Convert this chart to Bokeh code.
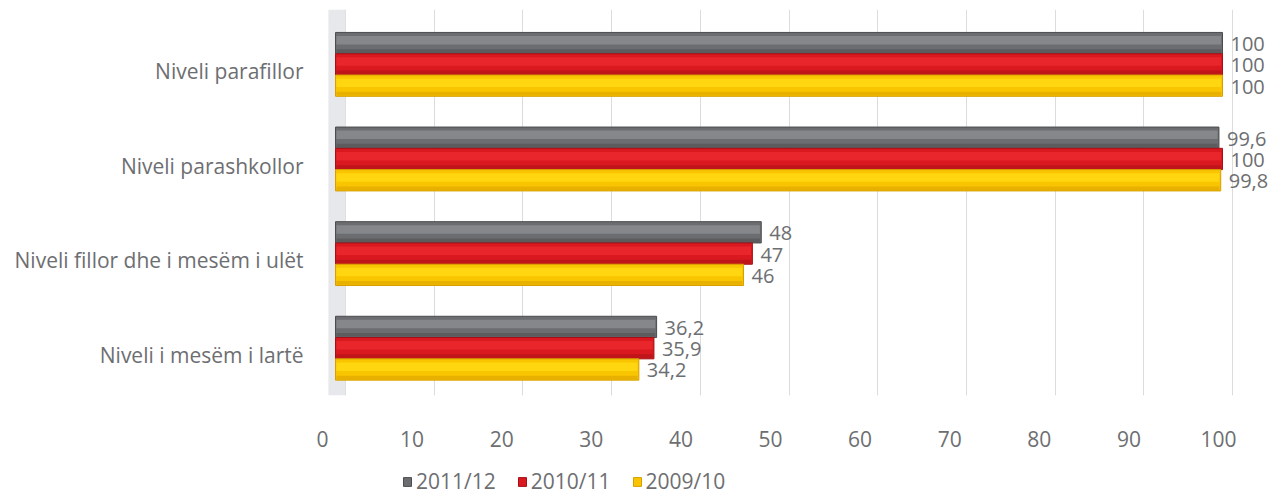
import numpy as np
from bokeh.plotting import figure
from bokeh.layouts import column
from bokeh.models import (Range1d, LinearAxis, FixedTicker, Grid, Legend, LegendItem,
                          BoxAnnotation)
from bokeh.core.properties import value
from bokeh.embed import file_html
from bokeh.resources import INLINE

# ---------------- data ----------------
categories = ["Niveli parafillor", "Niveli parashkollor",
              "Niveli fillor dhe i mesëm i ulët", "Niveli i mesëm i lartë"]
series = ["2011/12", "2010/11", "2009/10"]
v_2011_12 = [100, 99.6, 48, 36.2]
v_2010_11 = [100, 100, 47, 35.9]
v_2009_10 = [100, 99.8, 46, 34.2]
x_ticks = [0, 10, 20, 30, 40, 50, 60, 70, 80, 90, 100]

# ---------------- style ----------------
FONT = "Open Sans"
TXT = "#6d6e71"
base_colors = ["#6c6d70", "#d9191f", "#f8c500"]
hi_colors = ["#86878a", "#e8262c", "#ffd60f"]
lo_colors = ["#4b4c4e", "#a50f15", "#d89e00"]
offsets = [0.225, 0.0, -0.225]
BAR_H = 0.225

W = 1276
H_MAIN, H_LEG = 455, 40
FL, FR = 312, 1272          # frame left/right (px)
SCALE = 8.87                # px per unit for bars
XS = -(335 - FL) / SCALE
XE = XS + (FR - FL) / SCALE
YS, YE = -0.5, 3.58

cat_pos = np.arange(len(categories))[::-1].astype(float)

p = figure(width=W, height=H_MAIN,
           x_range=Range1d(XS, XE), y_range=Range1d(YS, YE),
           x_axis_location=None, y_axis_location=None,
           output_backend="svg", toolbar_location=None,
           min_border_left=FL, min_border_right=W - FR,
           min_border_top=9, min_border_bottom=60)
p.outline_line_color = None
p.background_fill_color = "white"
p.border_fill_color = "white"
for g in p.grid:
    g.visible = False

lab_scale = 8.96
lab_s = -(322 - FL) / lab_scale
wall_s = -(345 - FL) / SCALE
p.extra_x_ranges = {"wall": Range1d(wall_s, wall_s + (FR - FL) / SCALE),
                    "xlab": Range1d(lab_s, lab_s + (FR - FL) / lab_scale)}
p.extra_y_ranges = {"ylab": Range1d(YS + 0.07, YE + 0.07)}

# back wall grid
wall_grid = Grid(dimension=0, ticker=FixedTicker(ticks=x_ticks), x_range_name="wall",
                 grid_line_color="#dcdcdc", grid_line_width=1)
p.add_layout(wall_grid)

# left wall
p.add_layout(BoxAnnotation(left=-0.8, right=1.1, fill_color="#e6e8eb", fill_alpha=1.0,
                           line_color=None, level="underlay"))

values = [v_2011_12, v_2010_11, v_2009_10]
for i, (name, vals) in enumerate(zip(series, values)):
    y = cat_pos + offsets[i]
    p.hbar(y=y, right=vals, left=0, height=BAR_H,
           fill_color=base_colors[i], line_color=lo_colors[i], line_width=1)
    p.hbar(y=y + 0.03, right=np.array(vals) - 0.15, left=0.1, height=0.09,
           fill_color=hi_colors[i], line_color=None)
    p.hbar(y=y - 0.085, right=np.array(vals) - 0.15, left=0.1, height=0.04,
           fill_color=lo_colors[i], line_color=None, fill_alpha=0.5)
    labels = [f"{v:g}".replace(".", ",") for v in vals]
    p.text(x=vals, y=y, text=labels, x_offset=8, y_offset=1,
           text_align="left", text_baseline="middle",
           text_font=value(FONT), text_font_size="20px", text_color=TXT)

xa = LinearAxis(x_range_name="xlab", ticker=FixedTicker(ticks=x_ticks),
                axis_line_color=None, major_tick_line_color=None,
                minor_tick_line_color=None, major_label_standoff=29,
                major_label_text_font=FONT, major_label_text_font_size="21px",
                major_label_text_color=TXT)
p.add_layout(xa, "below")

ya = LinearAxis(y_range_name="ylab", ticker=FixedTicker(ticks=[float(c) for c in cat_pos]),
                major_label_overrides={float(c): n for c, n in zip(cat_pos, categories)},
                axis_line_color=None, major_tick_line_color=None,
                minor_tick_line_color=None, major_label_standoff=3,
                major_label_text_font=FONT, major_label_text_font_size="21px",
                major_label_text_color=TXT)
p.add_layout(ya, "left")

# ---------------- legend strip ----------------
pl = figure(width=W, height=H_LEG, x_range=Range1d(0, 1), y_range=Range1d(0, 1),
            x_axis_location=None, y_axis_location=None,
            output_backend="svg", toolbar_location=None,
            min_border_left=0, min_border_right=0, min_border_top=0, min_border_bottom=0)
pl.outline_line_color = None
for g in pl.grid:
    g.visible = False
items = []
for i, name in enumerate(series):
    # legend proxy (kept outside the visible y-range of the strip)
    r = pl.hbar(y=[-5], right=[1], left=0, height=0.5,
                fill_color=base_colors[i], line_color=lo_colors[i], line_width=1)
    items.append(LegendItem(label=name, renderers=[r]))
legend = Legend(items=items, orientation="horizontal", location=(90, 0),
                glyph_width=10, glyph_height=11, label_standoff=4, spacing=21,
                padding=0, margin=0, border_line_color=None, background_fill_alpha=0,
                label_text_font=FONT, label_text_font_size="21px", label_text_color=TXT)
pl.add_layout(legend)

layout = column(p, pl, spacing=0)
open("out.html", "w").write(file_html(layout, INLINE))
